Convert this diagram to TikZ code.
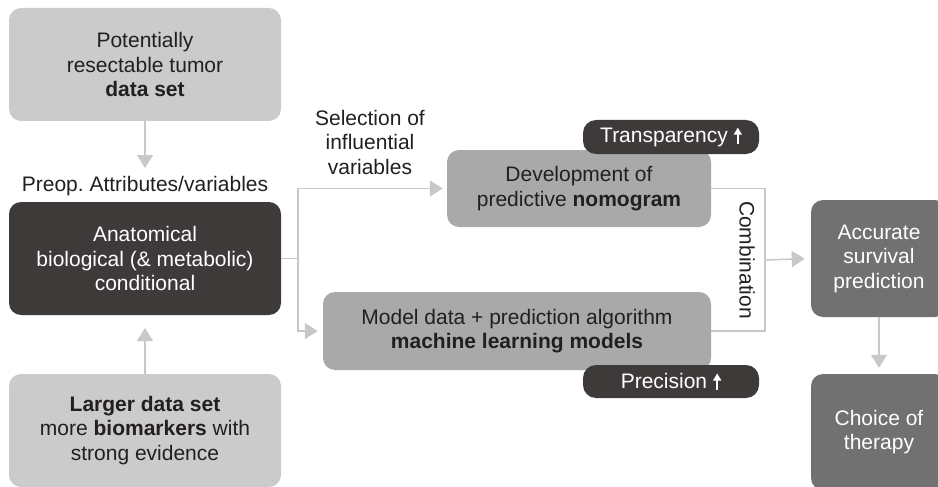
\documentclass[tikz,border=0pt]{standalone}
\usepackage{fontspec}
\setmainfont{Liberation Sans}
\usetikzlibrary{arrows.meta}
\definecolor{lightbox}{HTML}{CBCBCB}
\definecolor{darkbox}{HTML}{3E3A39}
\definecolor{midbox}{HTML}{A9A9A9}
\definecolor{rightbox}{HTML}{717171}
\definecolor{linegray}{HTML}{C8C8C8}
\definecolor{textdark}{HTML}{231F20}
\newcommand{\uparrowicon}{\tikz[baseline=0pt,x=1pt,y=1pt]\draw[white,line width=1.4pt,-{Triangle[length=7pt,width=8pt]}] (0,-1) -- (0,15);}
\frenchspacing
\begin{document}
\begin{tikzpicture}[x=1pt,y=-1pt,
  box/.style={rounded corners=12pt, align=center, inner sep=0pt,
    font=\fontsize{21}{24.5}\selectfont},
  lightnode/.style={box, fill=lightbox, text=textdark, minimum width=272pt, minimum height=113pt},
  darknode/.style={box, fill=darkbox, text=white, minimum width=272pt, minimum height=113pt},
  midnode/.style={box, fill=midbox, text=textdark},
  rightnode/.style={box, fill=rightbox, text=white, minimum width=136pt},
  tagnode/.style={box, rounded corners=13pt, fill=darkbox, text=white, minimum width=176pt, minimum height=34pt},
  lbl/.style={align=center, text=textdark, inner sep=0pt, font=\fontsize{21}{24.5}\selectfont},
  conn/.style={draw=linegray, line width=1.5pt},
  arr/.style={conn, -{Triangle[length=13pt,width=16pt]}},
]
\useasboundingbox (0,0) rectangle (938,487);

\node[lightnode] (A) at (145,64.5) {Potentially\\resectable tumor\\\textbf{data set}};
\node[darknode] (B) at (145,258.5) {Anatomical\\biological (\& metabolic)\\conditional};
\node[lightnode] (C) at (145,430.5) {\textbf{Larger data set}\\more \textbf{biomarkers} with\\strong evidence};
\node[lbl] (preop) at (145,186) {Preop.\ Attributes/variables};
\node[lbl] (sel) at (370,142) {Selection of\\influential\\variables};

\node[midnode, minimum width=264pt, minimum height=77pt] (D) at (579,188.5) {Development of\\predictive \textbf{nomogram}};
\node[midnode, minimum width=388pt, minimum height=78pt] (E) at (517,331) {Model data + prediction algorithm\\\textbf{machine learning models}};
\node[tagnode] (T) at (671,137) {Transparency\hspace{6pt}\uparrowicon};
\node[tagnode, minimum height=33pt] (P) at (671,381.5) {Precision\hspace{6pt}\uparrowicon};

\node[rightnode, minimum height=117pt] (F) at (879,258.5) {Accurate\\survival\\prediction};
\node[rightnode, minimum height=116pt] (G) at (879,432) {Choice of\\therapy};

\coordinate (a1) at (145,168);
\coordinate (c1) at (145,328);
\coordinate (split) at (298,258.5);
\coordinate (cTop) at (765,188.5);
\coordinate (cBot) at (765,331);
\coordinate (cMid) at (765,260);

\draw[arr] (A.south) -- (a1);
\draw[arr] (C.north) -- (c1);
\draw[conn] (B.east) -- (split);
\draw[arr, shorten >=4pt] (split) |- (D.west);
\draw[arr, shorten >=5pt] (split) |- (E.west);
\draw[conn] (D.east) -- (cTop) -- (cBot) -- (E.east);
\draw[arr, shorten >=6pt] (cMid) -- (F.west);
\draw[arr, shorten >=6pt] (F.south) -- (G.north);

\node[lbl, rotate=-90] (comb) at (747,260) {Combination};
\end{tikzpicture}
\end{document}
